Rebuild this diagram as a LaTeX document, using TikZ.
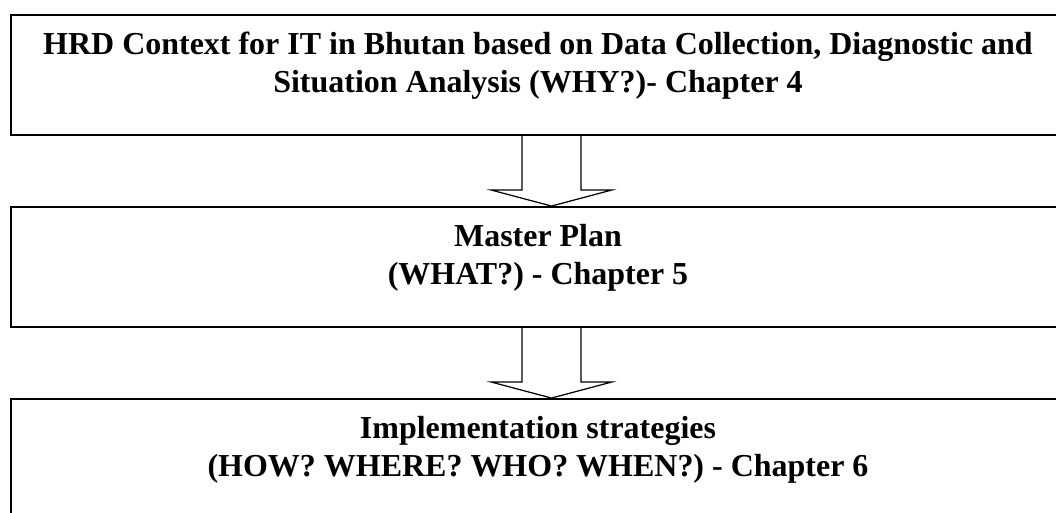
\documentclass[tikz,border=0pt]{standalone}
\usepackage{fontspec}
\setmainfont{Liberation Serif}
\usetikzlibrary{positioning,calc}

\begin{document}
\begin{tikzpicture}[x=0.02cm, y=-0.02cm,
  font=\bfseries\fontsize{18.2}{21.6}\selectfont,
  stage/.style={draw, line width=1.1pt, minimum width=21.08cm, minimum height=2.4cm, inner sep=0pt},
  stagetext/.style={align=center, inner sep=0pt},
  flow/.style={draw, line width=0.7pt, line join=miter}]
  \clip (0,0) rectangle (1056,512);

  % the three stages
  \node[stage] (why) at (538,75) {};
  \node[stage] (what) at (538,267) {};
  \node[stage] (how) at (538,459) {};

  \node[stagetext, below=0.36cm of why.north] (whytext)
    {HRD Context for IT in Bhutan based on Data Collection, Diagnostic and\\
     Situation Analysis (WHY?)- Chapter 4};
  \node[stagetext, below=0.36cm of what.north] (whattext)
    {Master Plan\\ (WHAT?) - Chapter 5};
  \node[stagetext, below=0.36cm of how.north] (howtext)
    {Implementation strategies\\ (HOW? WHERE? WHO? WHEN?) - Chapter 6};

  % block arrows between stages
  \foreach \a/\b in {why/what, what/how}
    \draw[flow] ($(\a.south)+(-16,0)$) -- ($(\a.south)+(-16,54)$)
      -- ($(\a.south)+(-47,54)$) -- ($(\b.north)+(13.5,0)$)
      -- ($(\a.south)+(74,54)$) -- ($(\a.south)+(43,54)$)
      -- ($(\a.south)+(43,0)$);
\end{tikzpicture}
\end{document}
